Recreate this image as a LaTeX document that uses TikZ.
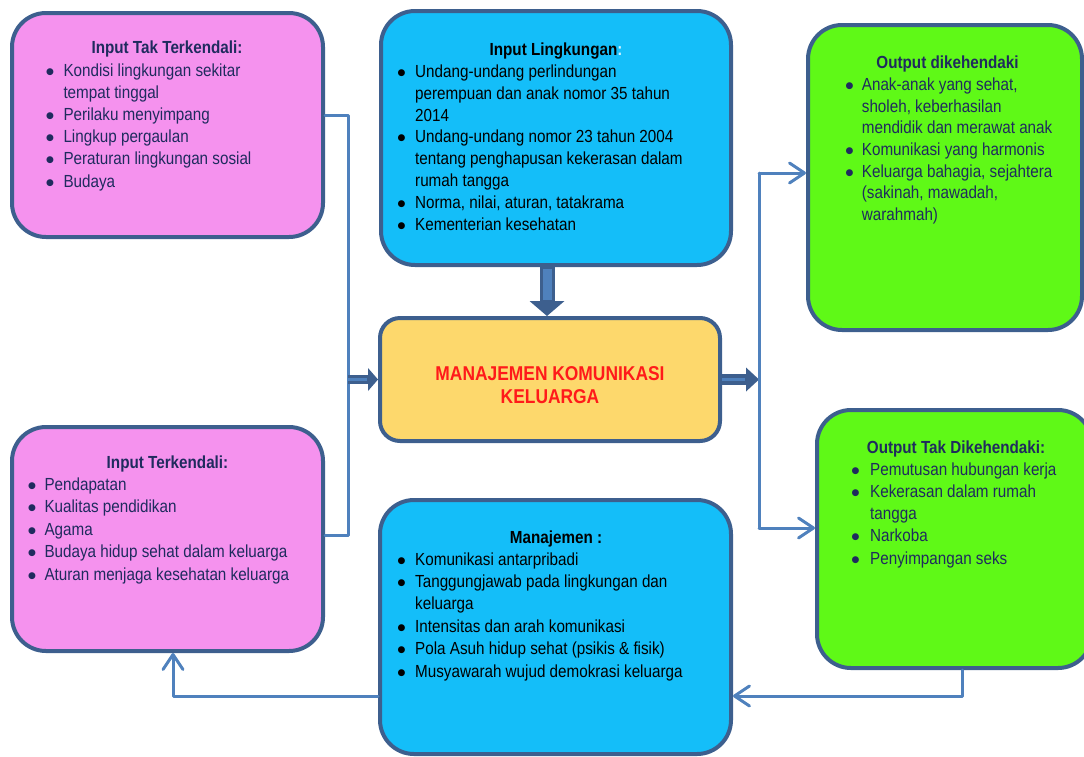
\documentclass[tikz,border=0pt]{standalone}
\usepackage{fontspec}
\setmainfont{Liberation Sans}[FakeStretch=0.87]
\newfontfamily\dejavu{DejaVu Sans}
\usetikzlibrary{arrows.meta,calc}
\definecolor{edgec}{HTML}{3D5F8E}
\definecolor{linec}{HTML}{4F81BD}
\definecolor{pinkf}{HTML}{F592EE}
\definecolor{bluef}{HTML}{14BEF9}
\definecolor{greenf}{HTML}{5FF917}
\definecolor{yellowf}{HTML}{FDD86C}
\definecolor{navy}{HTML}{1F2B5E}
\definecolor{redt}{HTML}{FF1A1A}
\definecolor{colonc}{HTML}{D6F2FF}
\newcommand\bu{\raisebox{2pt}{{\dejavu\fontsize{9}{9}\selectfont ●}}}
\newcommand\blist[3]{{\fontsize{17.5}{#2}\selectfont\begin{tabular}[t]{@{}p{#1}@{}l@{}}#3\end{tabular}}}
\begin{document}
\begin{tikzpicture}[x=1pt,y=-1pt,
  box/.style={draw=edgec, line width=4pt, rounded corners=34pt, inner sep=0pt},
  conn/.style={draw=linec, line width=3pt, line cap=round, line join=round},
  barb/.style={-{Straight Barb[length=15pt,width=20pt,round]}},
  txt/.style={inner sep=0pt, anchor=base west, align=left},
  hdr/.style={inner sep=0pt, anchor=base, font=\fontsize{17.5}{21}\selectfont\bfseries}]
\useasboundingbox (0,0) rectangle (1084,756);

% boxes
\node[box, fill=pinkf, minimum width=311pt, minimum height=224pt] (itt) at (167.5,125) {};
\node[box, fill=bluef, minimum width=350pt, minimum height=254pt] (il) at (556,138) {};
\node[box, fill=greenf, minimum width=274pt, minimum height=305pt] (od) at (945,177.5) {};
\node[box, fill=yellowf, rounded corners=20pt, minimum width=340pt, minimum height=123pt] (mk) at (550,379.5) {};
\node[box, fill=pinkf, minimum width=311pt, minimum height=224pt] (it) at (167.5,539) {};
\node[box, fill=bluef, minimum width=351pt, minimum height=254pt] (mj) at (555.5,627) {};
\node[box, fill=greenf, minimum width=275pt, minimum height=258pt] (otd) at (954.5,539) {};

% texts
\node[hdr, text=navy] (itt-h) at (167,53.5) {Input Tak Terkendali:};
\node[txt, text=navy] (itt-t) at (46,76) {\blist{17.3pt}{22.2pt}{%
\bu & Kondisi lingkungan sekitar\\ & tempat tinggal\\
\bu & Perilaku menyimpang\\ \bu & Lingkup pergaulan\\
\bu & Peraturan lingkungan sosial\\ \bu & Budaya}};

\node[hdr] (il-h) at (556,55) {Input Lingkungan\textcolor{colonc}{:}};
\node[txt] (il-t) at (397.5,77.5) {\blist{17.5pt}{21.8pt}{%
\bu & Undang-undang perlindungan\\ & perempuan dan anak nomor 35 tahun\\ & 2014\\
\bu & Undang-undang nomor 23 tahun 2004\\ & tentang penghapusan kekerasan dalam\\ & rumah tangga\\
\bu & Norma, nilai, aturan, tatakrama\\ \bu & Kementerian kesehatan}};

\node[hdr, text=navy] (od-h) at (947.5,68.5) {Output dikehendaki};
\node[txt, text=navy] (od-t) at (845.5,90.7) {\blist{16.2pt}{21.6pt}{%
\bu & Anak-anak yang sehat,\\ & sholeh, keberhasilan\\ & mendidik dan merawat anak\\
\bu & Komunikasi yang harmonis\\
\bu & Keluarga bahagia, sejahtera\\ & (sakinah, mawadah,\\ & warahmah)}};

\node[hdr, text=navy] (otd-h) at (956,453.3) {Output Tak Dikehendaki:};
\node[txt, text=navy] (otd-t) at (851.5,475) {\blist{18.5pt}{22.3pt}{%
\bu & Pemutusan hubungan kerja\\ \bu & Kekerasan dalam rumah\\ & tangga\\
\bu & Narkoba\\ \bu & Penyimpangan seks}};

\node[hdr, text=navy] (it-h) at (167.5,468.3) {Input Terkendali:};
\node[txt, text=navy] (it-t) at (28,490) {\blist{16.3pt}{22.5pt}{%
\bu & Pendapatan\\ \bu & Kualitas pendidikan\\ \bu & Agama\\
\bu & Budaya hidup sehat dalam keluarga\\ \bu & Aturan menjaga kesehatan keluarga}};

\node[hdr] (mj-h) at (556,543.3) {Manajemen :};
\node[txt] (mj-t) at (397.5,565) {\blist{17.5pt}{22.4pt}{%
\bu & Komunikasi antarpribadi\\ \bu & Tanggungjawab pada lingkungan dan\\ & keluarga\\
\bu & Intensitas dan arah komunikasi\\ \bu & Pola Asuh hidup sehat (psikis \& fisik)\\
\bu & Musyawarah wujud demokrasi keluarga}};

\node[inner sep=0pt, align=center, text=redt, font=\fontsize{20}{23.3}\selectfont\bfseries] (mk-t) at (550,385) {MANAJEMEN KOMUNIKASI\\KELUARGA};

% junction coordinates
\coordinate (j1) at (348,115);
\coordinate (j2) at (348,535);
\coordinate (jd) at (547,0);
\coordinate (j3) at (759,377);
\coordinate (j4) at (759,173);
\coordinate (j5) at (759,528);
\coordinate (j6) at (962,696);
\coordinate (j7) at (173,696);

% input connectors
\draw[conn] (itt.east |- j1) -- (j1) -- (j2) -- (it.east |- j2);
\draw[edgec, line width=9pt, -{Triangle[length=10pt,width=23pt,line width=0pt]}] (j1 |- mk.west) -- (mk.west);
\draw[linec, line width=2.5pt, shorten >=11pt] (j1 |- mk.west) -- (mk.west);

\draw[edgec, line width=15pt, -{Triangle[length=15pt,width=35pt,line width=0pt]}] (il.south -| jd) -- (mk.north -| jd);
\draw[linec, line width=9pt, shorten >=16pt, shorten <=2pt] (il.south -| jd) -- (mk.north -| jd);

% output connectors
\draw[edgec, line width=11pt, -{Triangle[length=13pt,width=24pt,line width=0pt]}] (mk.east) -- (mk.east -| j3);
\draw[linec, line width=2.5pt, shorten >=14pt] (mk.east) -- (mk.east -| j3);
\draw[conn] (j4) -- (j5);
\draw[conn, barb] (j4) -- (od.west |- j4);
\draw[conn, barb] (j5) -- (otd.west |- j5);

% feedback connectors
\draw[conn, barb] (otd.south -| j6) -- (j6) -- (mj.east |- j6);
\draw[conn, barb] (mj.west |- j7) -- (j7) -- (it.south -| j7);
\end{tikzpicture}
\end{document}
